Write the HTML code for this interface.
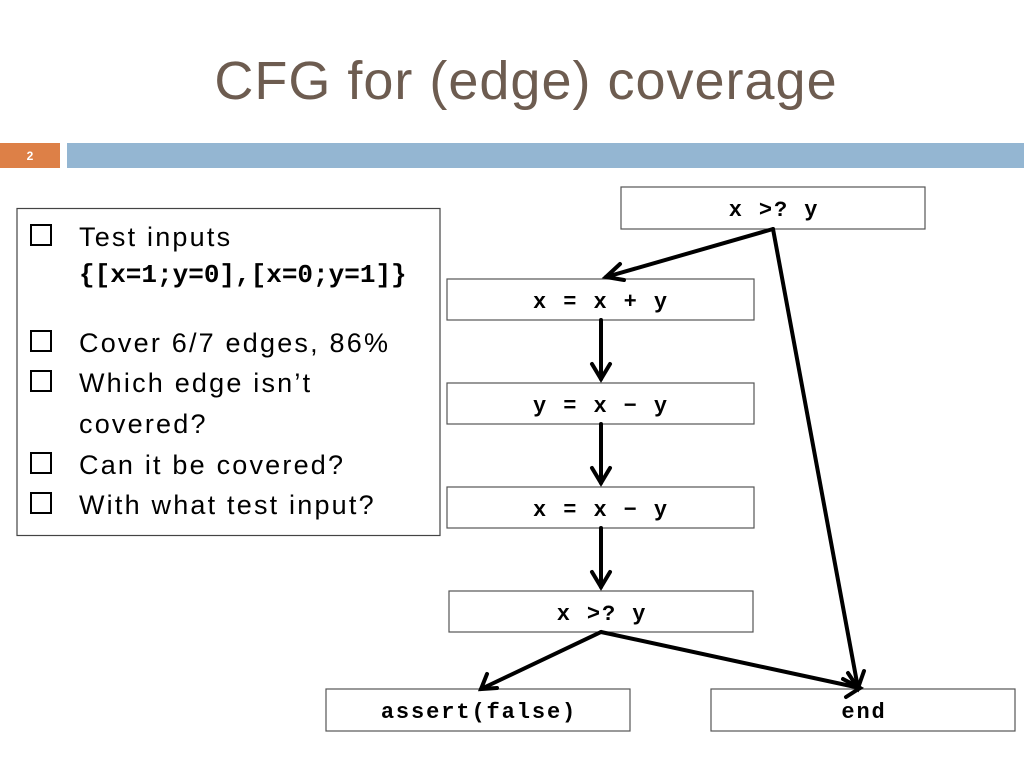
<!DOCTYPE html>
<html><head><style>
body{margin:0;width:1024px;height:768px;background:#fff;overflow:hidden;position:relative;font-family:"Liberation Sans",sans-serif}
.t{position:absolute;left:14px;width:1024px;top:50px;text-align:center;font-size:54px;letter-spacing:1px;color:#6d5c50}
</style></head><body>
<div class="t">CFG for (edge) coverage</div>
<svg width="1024" height="768" style="position:absolute;left:0;top:0">
<rect x="0" y="143" width="60" height="25" fill="#dd8047"/>
<text x="30" y="160" font-size="12" font-weight="bold" fill="#fff" text-anchor="middle" font-family="Liberation Sans">2</text>
<rect x="67" y="143" width="957" height="25" fill="#94b6d2"/>
<rect x="17" y="208.5" width="423" height="327" fill="none" stroke="#444" stroke-width="1.2"/>
<g fill="#000">
<g fill="none" stroke="#000">
<rect x="31" y="225" width="20" height="20" stroke-width="2"/><rect x="31" y="331" width="20" height="20" stroke-width="2"/><rect x="31" y="371" width="20" height="20" stroke-width="2"/><rect x="31" y="453" width="20" height="20" stroke-width="2"/><rect x="31" y="493" width="20" height="20" stroke-width="2"/>
</g>
<g font-family="Liberation Sans" font-size="27" letter-spacing="2.2">
<text x="79" y="246">Test inputs</text>
<text x="79" y="352">Cover 6/7 edges, 86%</text>
<text x="79" y="392">Which edge isn’t</text>
<text x="79" y="433">covered?</text>
<text x="79" y="474">Can it be covered?</text>
<text x="79" y="514">With what test input?</text>
</g>
<text x="79" y="282" font-family="Liberation Mono" font-weight="bold" font-size="26">{[x=1;y=0],[x=0;y=1]}</text>
</g>
<g fill="#fff" stroke="#555" stroke-width="1.2">
<rect x="621" y="187" width="304" height="42"/>
<rect x="447" y="279" width="307" height="41"/>
<rect x="447" y="383" width="307" height="41"/>
<rect x="447" y="487" width="307" height="41"/>
<rect x="449" y="591" width="304" height="41"/>
<rect x="326" y="689" width="304" height="42"/>
<rect x="711" y="689" width="304" height="42"/>
</g>
<g font-family="Liberation Mono" font-weight="bold" font-size="22" letter-spacing="1.9" text-anchor="middle" fill="#000">
<text x="774" y="216">x &gt;? y</text>
<text x="601" y="308">x = x + y</text>
<text x="601" y="412">y = x − y</text>
<text x="601" y="516">x = x − y</text>
<text x="602" y="620">x &gt;? y</text>
<text x="479" y="718">assert(false)</text>
<text x="864" y="718">end</text>
</g>
<g stroke="#000" stroke-width="4" fill="none" stroke-linecap="round" stroke-linejoin="miter">
<line x1="773" y1="229" x2="606" y2="277"/><polyline points="620,264 606,277 624,280"/>
<line x1="773" y1="229" x2="858" y2="688"/><polyline points="848,673 858,688 864,671"/>
<line x1="601" y1="320" x2="601" y2="379"/><polyline points="592,364 601,379 610,364"/>
<line x1="601" y1="424" x2="601" y2="483"/><polyline points="592,468 601,483 610,468"/>
<line x1="601" y1="528" x2="601" y2="587"/><polyline points="592,572 601,587 610,572"/>
<line x1="601" y1="632" x2="481" y2="689"/><polyline points="487,674 481,689 497,688"/>
<line x1="601" y1="632" x2="860" y2="688"/><polyline points="843,679 860,688 846,697"/>
</g>
</svg>
</body></html>
